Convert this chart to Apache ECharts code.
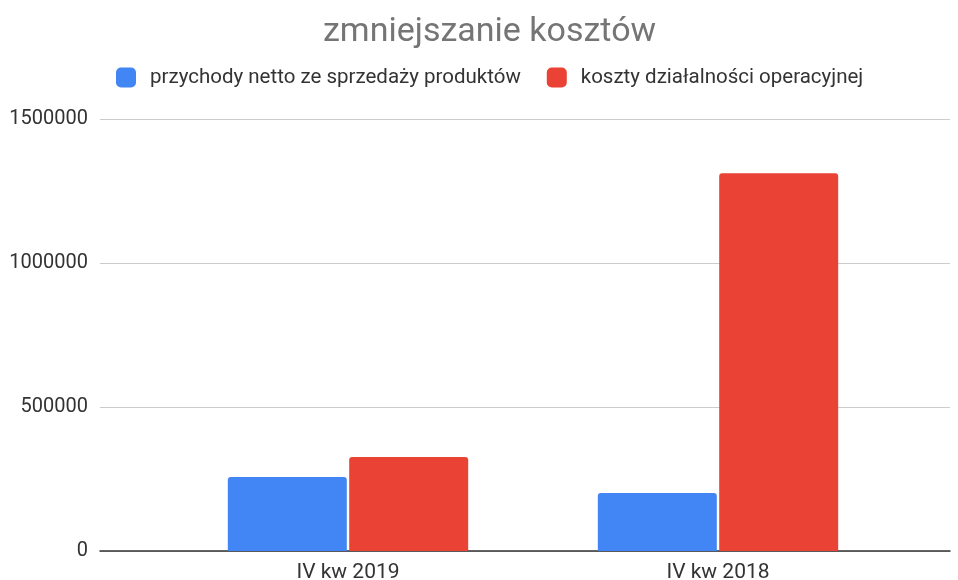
<!DOCTYPE html>
<html>
<head>
<meta charset="utf-8">
<script src="https://cdn.jsdelivr.net/npm/echarts@6/dist/echarts.min.js"></script>
<style>
  html, body { margin: 0; padding: 0; background: #fff; }
  #chart { width: 958px; height: 580px; }
</style>
</head>
<body>
<div id="chart"></div>
<script>
const title = 'zmniejszanie kosztów'
const categories = ['IV kw 2019', 'IV kw 2018']
const seriesNames = ['przychody netto ze sprzedaży produktów', 'koszty działalności operacyjnej']
const revenue = [257000, 201000]
const costs = [326000, 1312000]
const yTicks = [0, 500000, 1000000, 1500000]

const font = 'Roboto, Arial, sans-serif'
const chart = echarts.init(document.getElementById('chart'))

const option = {
  animation: false,
  title: {
    text: title,
    left: 318,
    top: 10,
    textStyle: { fontFamily: font, fontSize: 34, fontWeight: 'normal', color: '#757575' }
  },
  legend: {
    top: 62,
    left: 111,
    itemWidth: 20,
    itemHeight: 20,
    itemGap: 26,
    icon: 'roundRect',
    textStyle: { fontFamily: font, fontSize: 20.5, color: '#333', padding: [0, 0, 0, 9] },
    data: seriesNames
  },
  grid: [
    // background grid: gridlines + y labels across the full width
    { left: 100, right: 8, top: 119, bottom: 29, outerBoundsMode: 'none' },
    // bars sit in a narrower grid
    { left: 163, right: 55, top: 119, bottom: 29, outerBoundsMode: 'none' }
  ],
  xAxis: [
    {
      type: 'value', gridIndex: 0, min: 0, max: 1,
      axisLine: { show: true, lineStyle: { color: '#333', width: 1.5 } },
      axisTick: { show: false }, axisLabel: { show: false }, splitLine: { show: false }
    },
    {
      type: 'category', gridIndex: 1, data: categories,
      axisLine: { show: false }, axisTick: { show: false },
      axisLabel: { fontFamily: font, fontSize: 21, color: '#333', margin: 11 }
    }
  ],
  yAxis: [
    {
      type: 'value', gridIndex: 0, min: yTicks[0], max: yTicks[yTicks.length - 1],
      interval: yTicks[1] - yTicks[0],
      axisLine: { show: false }, axisTick: { show: false },
      axisLabel: { fontFamily: font, fontSize: 20, color: '#333', margin: 12, formatter: v => String(v) },
      splitLine: { lineStyle: { color: '#ccc', width: 1 } }
    },
    {
      type: 'value', gridIndex: 1, min: yTicks[0], max: yTicks[yTicks.length - 1],
      show: false
    }
  ],
  series: [
    {
      name: seriesNames[0], type: 'bar', xAxisIndex: 1, yAxisIndex: 1,
      data: revenue, barWidth: 119, barGap: '2%',
      itemStyle: { color: '#4285F4', borderRadius: [3, 3, 0, 0] }
    },
    {
      name: seriesNames[1], type: 'bar', xAxisIndex: 1, yAxisIndex: 1,
      data: costs, barWidth: 119,
      itemStyle: { color: '#EA4335', borderRadius: [3, 3, 0, 0] }
    }
  ]
}

chart.setOption(option)
</script>
</body>
</html>
